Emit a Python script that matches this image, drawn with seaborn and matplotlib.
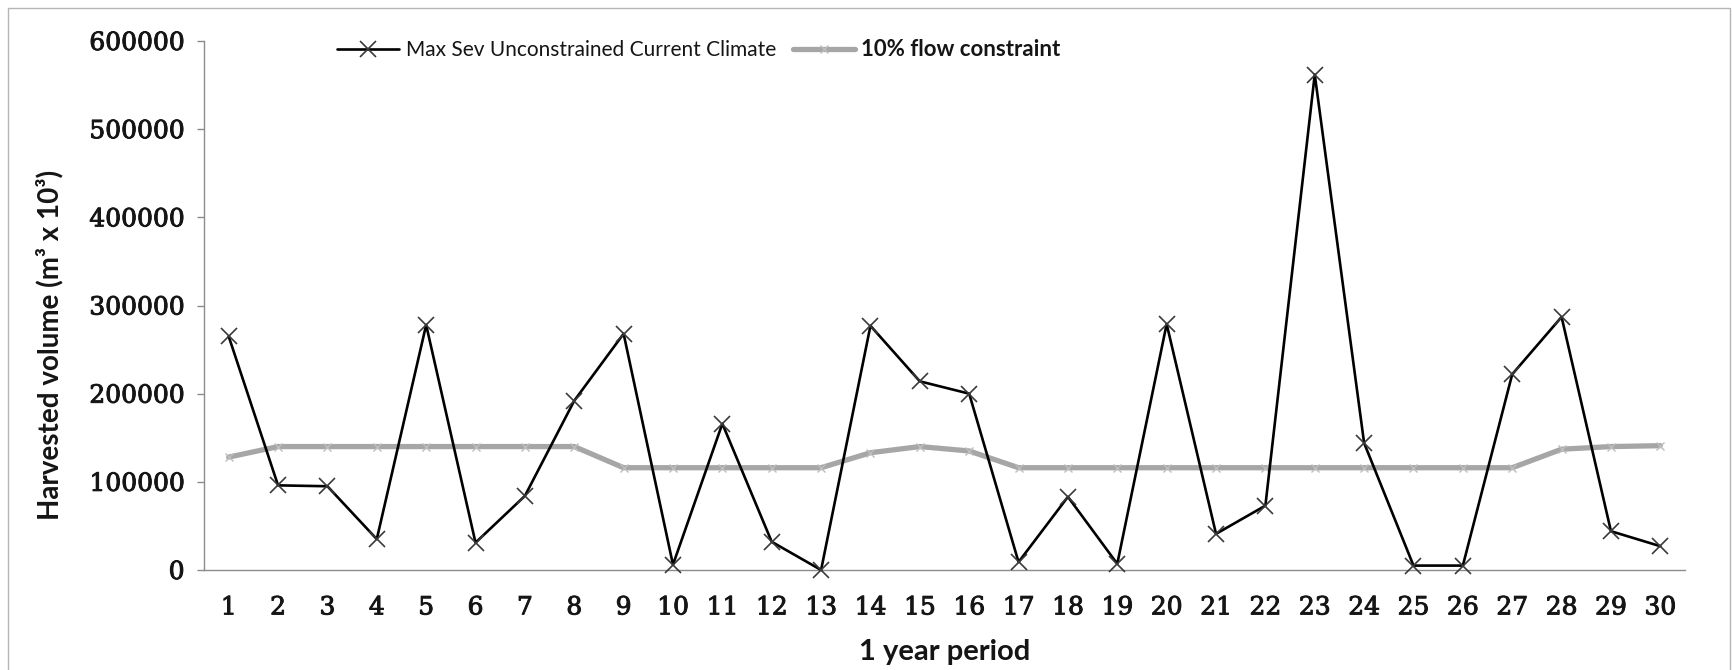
import numpy as np
import pandas as pd
import matplotlib
matplotlib.use("Agg")
import matplotlib.pyplot as plt
import matplotlib.patheffects as pe
from matplotlib.lines import Line2D
from matplotlib.patches import Rectangle
import seaborn as sns

# Harvest per 1-year period
periods = list(range(1, 31))
unconstrained = [265000, 96000, 95000, 35000, 278000, 31000, 84000, 192000, 268000, 6000,
                 166000, 32000, 0, 277000, 214000, 200000, 9000, 83000, 7000, 279000,
                 41000, 73000, 562000, 144000, 5000, 5000, 222000, 287000, 44000, 27000]
flow_constraint = [128000, 140000, 140000, 140000, 140000, 140000, 140000, 140000, 116000, 116000,
                   116000, 116000, 116000, 133000, 140000, 135000, 116000, 116000, 116000, 116000,
                   116000, 116000, 116000, 116000, 116000, 116000, 116000, 137000, 140000, 141000]
y_ticks = [0, 100000, 200000, 300000, 400000, 500000, 600000]

label_black = "Max Sev Unconstrained Current Climate"
label_gray = "10% flow constraint"

df = pd.DataFrame({"period": periods, "unconstrained": unconstrained,
                   "constraint": flow_constraint})

sns.set_theme(style="white")
plt.rcParams["font.family"] = ["DejaVu Serif"]

fig = plt.figure(figsize=(17.33, 6.70), dpi=100)
ax = fig.add_axes([204 / 1733, 1 - 570 / 670, (1685 - 204) / 1733, (570 - 41) / 670])

sns.lineplot(data=df, x="period", y="constraint", ax=ax, color="#a6a6a6", linewidth=3.8,
             marker="x", markersize=6, markeredgecolor="#bdbdbd", markeredgewidth=1.0,
             clip_on=False, zorder=2, solid_joinstyle="round")
sns.lineplot(data=df, x="period", y="unconstrained", ax=ax, color="black", linewidth=1.9,
             marker="x", markersize=12, markeredgecolor="#3a3a3a", markeredgewidth=1.2,
             clip_on=False, zorder=3)

ax.set_xlim(0.5, 30.5)
ax.set_ylim(0, 600000)
ax.set_xticks(periods)
ax.set_xticklabels([str(p) for p in periods])
ax.set_yticks(y_ticks)
ax.set_yticklabels([str(v) for v in y_ticks])

for side in ["top", "right"]:
    ax.spines[side].set_visible(False)
for side in ["left", "bottom"]:
    ax.spines[side].set_color("#8c8c8c")
    ax.spines[side].set_linewidth(1.0)

ax.tick_params(axis="y", which="major", left=True, length=5, width=1.0, color="#8c8c8c",
               pad=9, labelsize=18, labelcolor="#151515")
ax.tick_params(axis="x", which="major", bottom=False, length=0, pad=19,
               labelsize=18, labelcolor="#151515")
# slightly heavier numerals
for lab in ax.get_xticklabels() + ax.get_yticklabels():
    lab.set_path_effects([pe.withStroke(linewidth=0.7, foreground="#151515")])

ax.set_ylabel("Harvested volume (m\u00b3 x 10\u00b3)", family=["Lato", "DejaVu Sans"],
              fontweight="bold", fontsize=20, color="#151515")
ax.yaxis.set_label_coords(-0.104, 0.425)
ax.yaxis.label.set_va("center")
ax.set_xlabel("1 year period", family=["Lato", "DejaVu Sans"], fontweight="bold",
              fontsize=21, color="#151515")
ax.xaxis.set_label_coords(0.5, -0.155)
ax.xaxis.label.set_va("center")

handles = [
    Line2D([], [], color="black", linewidth=1.9, marker="x", markersize=12,
           markeredgecolor="#3a3a3a", markeredgewidth=1.2),
    Line2D([], [], color="#a6a6a6", linewidth=3.8, marker="x", markersize=6,
           markeredgecolor="#bdbdbd", markeredgewidth=1.0),
]
leg = ax.legend(handles, [label_black, label_gray], ncol=2, frameon=False,
                loc="center left", bbox_to_anchor=((337 - 204) / 1481, (570 - 50) / 529),
                handlelength=3.0, handletextpad=0.3, columnspacing=0.8, borderpad=0,
                borderaxespad=0, prop={"family": ["Lato", "DejaVu Sans"], "size": 15})
texts = leg.get_texts()
texts[0].set_fontweight("normal")
texts[1].set_fontweight("bold")
texts[1].set_fontsize(16)
for t in texts:
    t.set_color("#151515")

# chart-area border
fig.patches.append(Rectangle((8 / 1733, -0.02), (1730 - 8) / 1733, 1 - 8 / 670 + 0.02,
                             transform=fig.transFigure, fill=False, edgecolor="#b5b5b5",
                             linewidth=1.0))

fig.savefig("out.png", dpi=100, facecolor="white")
